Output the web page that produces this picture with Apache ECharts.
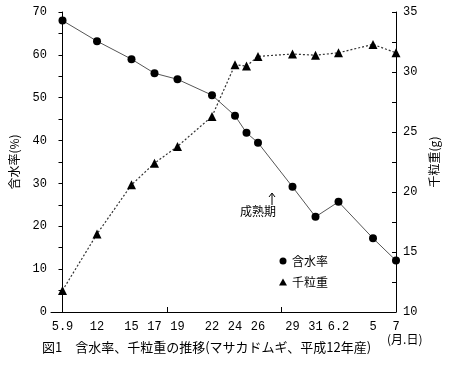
<!DOCTYPE html>
<html>
<head>
<meta charset="utf-8">
<script src="https://cdn.jsdelivr.net/npm/echarts@6/dist/echarts.min.js"></script>
<style>
  html, body { margin: 0; padding: 0; background: #fff; }
  #chart { width: 457px; height: 377px; }
</style>
</head>
<body>
<div id="chart"></div>
<script>
  // days counted from May 9
  const days = [0, 3, 6, 8, 10, 13, 15, 16, 17, 20, 22, 24, 27, 29];
  const moisture = [68.0, 63.2, 59.0, 55.7, 54.3, 50.6, 45.8, 41.8, 39.5, 29.2, 22.2, 25.7, 17.2, 12.0];
  const grainWeight = [11.8, 16.5, 20.6, 22.4, 23.8, 26.3, 30.6, 30.5, 31.3, 31.5, 31.4, 31.6, 32.3, 31.6];

  const labelDays = [0, 3, 6, 8, 10, 13, 15, 17, 20, 22, 24, 27, 29];
  const dateLabels = ['5.9', '12', '15', '17', '19', '22', '24', '26', '29', '31', '6.2', '5', '7'];

  const numFont = 'Liberation Mono';
  const jpFont = 'Noto Sans CJK JP';

  let myChart = echarts.init(document.getElementById('chart'));
  const option = {
    animation: false,
    grid: { left: 46, right: 61, top: 12, bottom: 65 },
    legend: {
      orient: 'vertical',
      left: 274,
      top: 250,
      itemWidth: 8,
      itemHeight: 7,
      itemGap: 9,
      textStyle: { fontFamily: jpFont, fontSize: 12, color: '#000' },
      data: [
        { name: '含水率', icon: 'circle' },
        { name: '千粒重', icon: 'triangle' }
      ]
    },
    xAxis: {
      type: 'value',
      min: -1,
      max: 29,
      splitLine: { show: false },
      axisLine: { lineStyle: { color: '#000', width: 1 } },
      axisTick: {
        show: true,
        inside: true,
        length: 5,
        customValues: [9.1, 19],
        lineStyle: { color: '#000' }
      },
      axisLabel: {
        customValues: labelDays,
        formatter: function (v) {
          const i = labelDays.indexOf(v);
          return i >= 0 ? dateLabels[i] : '';
        },
        margin: 9,
        fontFamily: numFont,
        fontSize: 12,
        color: '#000'
      }
    },
    yAxis: [{
      type: 'value',
      min: 0,
      max: 70,
      interval: 5,
      name: '含水率(%)',
      nameLocation: 'middle',
      nameGap: 31,
      nameRotate: 90,
      nameTextStyle: { fontFamily: jpFont, fontSize: 12, color: '#000' },
      splitLine: { show: false },
      axisLine: { show: true, lineStyle: { color: '#000', width: 1 } },
      axisTick: { show: true, length: 4, lineStyle: { color: '#000' } },
      axisLabel: {
        formatter: function (v) { return v % 10 === 0 ? v : ''; },
        margin: 4,
        fontFamily: numFont,
        fontSize: 12,
        color: '#000'
      }
    }, {
      type: 'value',
      min: 10,
      max: 35,
      interval: 2.5,
      position: 'right',
      name: '千粒重(g)',
      nameLocation: 'middle',
      nameGap: 25,
      nameRotate: 90,
      nameTextStyle: { fontFamily: jpFont, fontSize: 12, color: '#000' },
      splitLine: { show: false },
      axisLine: { show: true, lineStyle: { color: '#000', width: 1 } },
      axisTick: { show: true, inside: true, length: 4, lineStyle: { color: '#000' } },
      axisLabel: {
        formatter: function (v) { return v % 5 === 0 ? v : ''; },
        margin: 7,
        fontFamily: numFont,
        fontSize: 12,
        color: '#000'
      }
    }],
    series: [{
      name: '含水率',
      type: 'line',
      yAxisIndex: 0,
      data: days.map((d, i) => [d, moisture[i]]),
      symbol: 'circle',
      symbolSize: 8,
      itemStyle: { color: '#000' },
      lineStyle: { color: '#555', width: 1, type: 'solid' }
    }, {
      name: '千粒重',
      type: 'line',
      yAxisIndex: 1,
      data: days.map((d, i) => [d, grainWeight[i]]),
      symbol: 'triangle',
      symbolSize: 9,
      itemStyle: { color: '#000' },
      lineStyle: { color: '#333', width: 1.2, type: [2, 2] }
    }],
    graphic: [
      { type: 'line', shape: { x1: 272, y1: 194, x2: 272, y2: 205 }, style: { stroke: '#000', lineWidth: 1 } },
      { type: 'polyline', shape: { points: [[269, 197], [272, 193], [275, 197]] }, style: { stroke: '#000', lineWidth: 1, fill: null } },
      { type: 'text', left: 240, top: 205, style: { text: '成熟期', fontFamily: jpFont, fontSize: 12, fill: '#000' } },
      { type: 'text', left: 387, top: 333, style: { text: '(月.日)', fontFamily: jpFont, fontSize: 12, fill: '#000' } },
      { type: 'text', left: 42, top: 341, style: { text: '図1　含水率、千粒重の推移(マサカドムギ、平成12年産)', fontFamily: jpFont, fontSize: 13, fill: '#000' } }
    ]
  };
  myChart.setOption(option);
</script>
</body>
</html>
